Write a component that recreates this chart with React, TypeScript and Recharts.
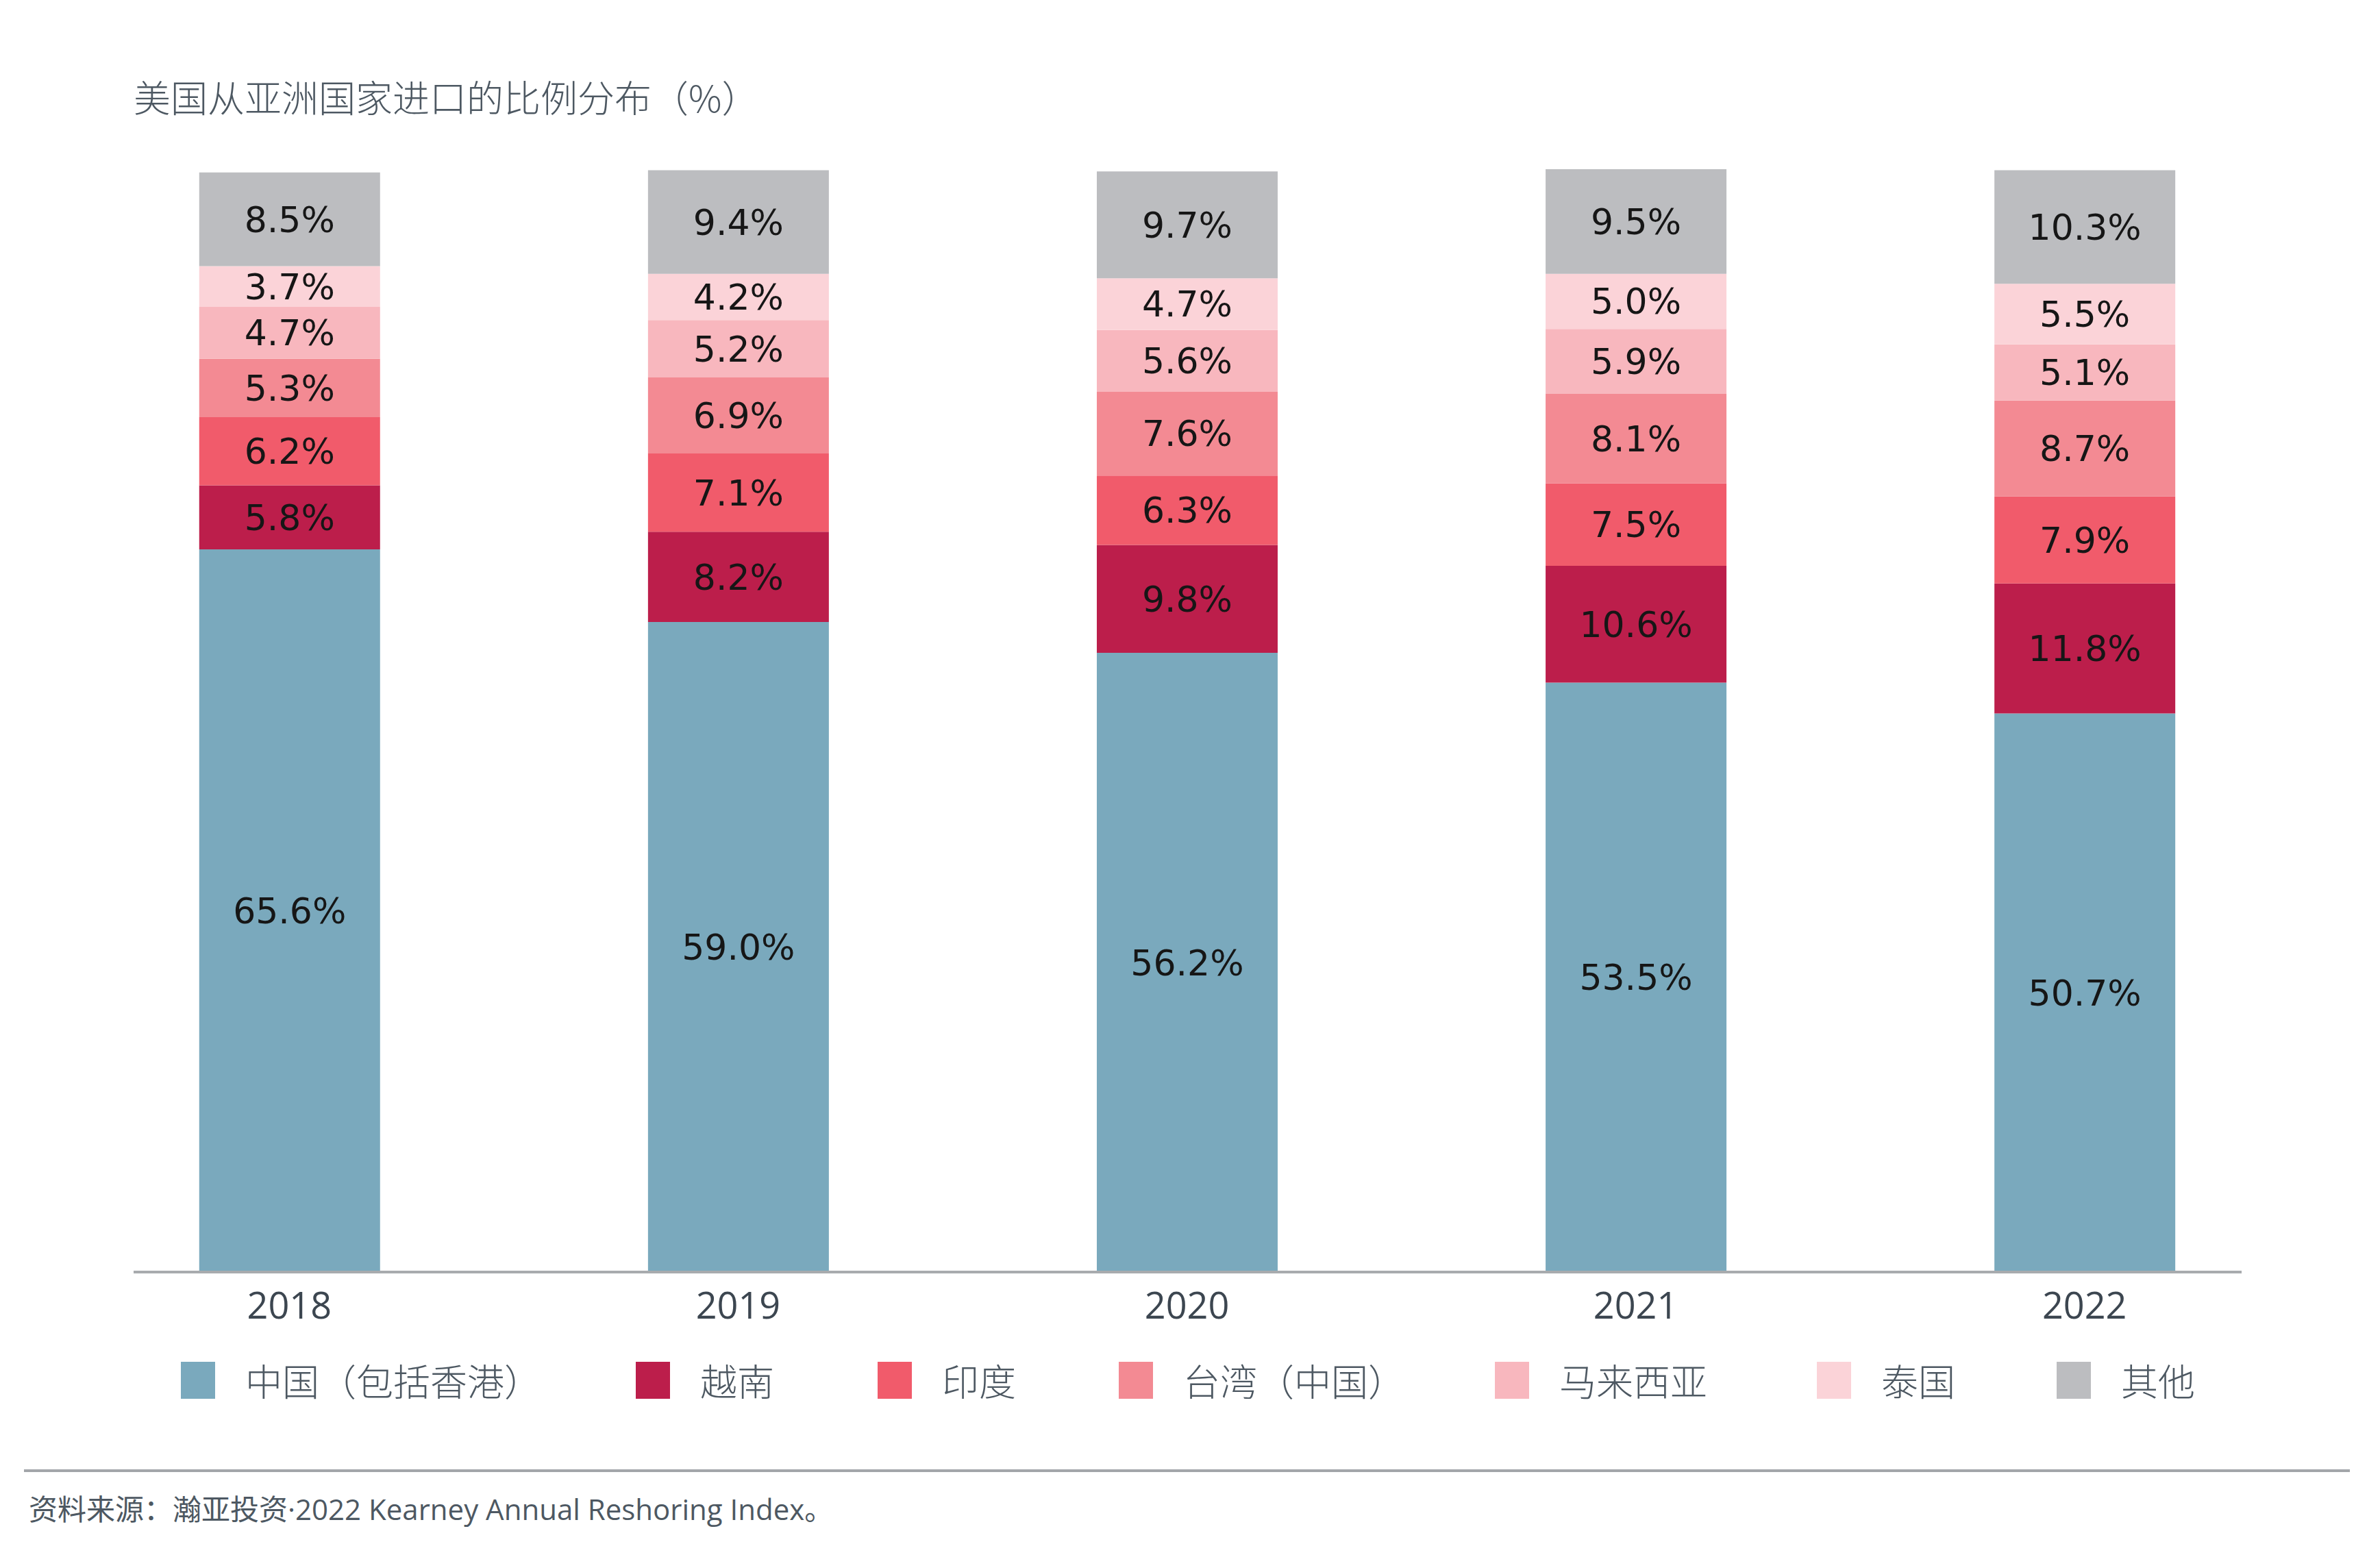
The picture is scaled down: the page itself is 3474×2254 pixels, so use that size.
import React from 'react';
import { BarChart, Bar, XAxis, YAxis, LabelList } from 'recharts';

// years on the x axis
const years = ['2018', '2019', '2020', '2021', '2022'];

// share of US imports from Asian countries (%), bottom to top of each stack
const china = [65.6, 59.0, 56.2, 53.5, 50.7];
const vietnam = [5.8, 8.2, 9.8, 10.6, 11.8];
const india = [6.2, 7.1, 6.3, 7.5, 7.9];
const taiwan = [5.3, 6.9, 7.6, 8.1, 8.7];
const malaysia = [4.7, 5.2, 5.6, 5.9, 5.1];
const thailand = [3.7, 4.2, 4.7, 5.0, 5.5];
const others = [8.5, 9.4, 9.7, 9.5, 10.3];

const seriesNames = ['中国（包括香港）', '越南', '印度', '台湾（中国）', '马来西亚', '泰国', '其他'];
const seriesKeys = ['china', 'vietnam', 'india', 'taiwan', 'malaysia', 'thailand', 'others'];
const seriesColors = ['#7aa9bd', '#bc1e4b', '#f15b6b', '#f38a93', '#f8b7be', '#fbd3d8', '#bcbdc0'];
const seriesValues = [china, vietnam, india, taiwan, malaysia, thailand, others];

const chartData = years.map((year, i) => {
  const row: { [k: string]: number | string } = { idx: i, year };
  seriesKeys.forEach((k, s) => {
    row[k] = seriesValues[s][i];
  });
  return row;
});

const W = 3474;
const H = 2254;
const textColor = '#4d5862';
const cjkFont = '"Noto Sans CJK SC", "Open Sans", sans-serif';
// left edge of each legend swatch
const legendLeft = [264, 928, 1281, 1633, 2182, 2652, 3002];

const App: React.FC = () => {
  return (
    <div style={{ position: 'absolute', left: 0, top: 0, width: W, height: H, background: '#fff' }}>
      <div
        style={{
          position: 'absolute',
          left: 195,
          top: 106,
          fontFamily: cjkFont,
          fontSize: 54,
          fontWeight: 300,
          color: textColor,
          lineHeight: '70px',
          whiteSpace: 'nowrap',
        }}
      >
        美国从亚洲国家进口的比例分布（%）
      </div>

      <BarChart
        width={W}
        height={H}
        data={chartData}
        margin={{ top: 247, right: 202, left: 195, bottom: 317 }}
      >
        <XAxis
          type="number"
          dataKey="idx"
          domain={[-0.347, 4.35]}
          ticks={[0, 1, 2, 3, 4]}
          allowDataOverflow
          tickFormatter={(i: number) => years[i]}
          height={80}
          tickLine={false}
          tickSize={0}
          tickMargin={30}
          axisLine={{ stroke: '#a8abae', strokeWidth: 4 }}
          tick={{ fontSize: 54, fill: '#3c4650', fontFamily: '"Open Sans", sans-serif' }}
        />
        <YAxis hide domain={[0, 100]} />
        {seriesKeys.map((k, s) => (
          <Bar key={k} dataKey={k} stackId="a" fill={seriesColors[s]} barSize={264} isAnimationActive={false}>
            <LabelList
              dataKey={k}
              position="center"
              formatter={(v: number) => `${Number(v).toFixed(1)}%`}
              style={{ fontSize: 52, fill: '#161616', fontFamily: '"DejaVu Sans", sans-serif' }}
            />
          </Bar>
        ))}
      </BarChart>

      {/* legend */}
      {seriesNames.map((name, s) => (
        <div
          key={name}
          style={{
            position: 'absolute',
            left: legendLeft[s],
            top: 1975,
            display: 'flex',
            alignItems: 'center',
            fontFamily: cjkFont,
            fontSize: 54,
            fontWeight: 300,
            color: textColor,
            whiteSpace: 'nowrap',
          }}
        >
          <div style={{ width: 50, height: 54, background: seriesColors[s], marginRight: 44 }} />
          <span>{name}</span>
        </div>
      ))}

      {/* source line */}
      <div style={{ position: 'absolute', left: 35, top: 2145, width: 3395, height: 4, background: '#a3a6aa' }} />
      <div
        style={{
          position: 'absolute',
          left: 42,
          top: 2170,
          fontFamily: '"Open Sans", "Noto Sans CJK SC", sans-serif',
          fontSize: 42,
          color: textColor,
          whiteSpace: 'nowrap',
        }}
      >
        资料来源：瀚亚投资·2022 Kearney Annual Reshoring Index。
      </div>
    </div>
  );
};

export default App;
